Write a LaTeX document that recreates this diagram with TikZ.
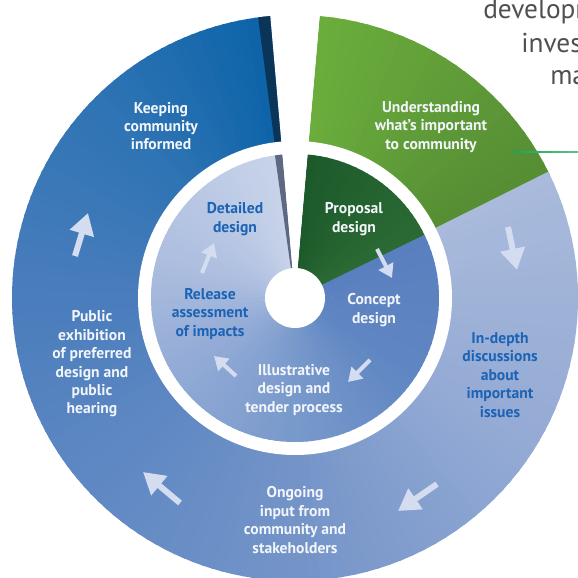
\documentclass[tikz,border=0pt]{standalone}
\usepackage{fontspec}
\setmainfont{PT Sans}
\usepackage{tikz}
\usetikzlibrary{arrows.meta}
\definecolor{ringA}{HTML}{A9BADB}
\definecolor{ringB}{HTML}{95ABD5}
\definecolor{ringC}{HTML}{7494C8}
\definecolor{ringD}{HTML}{5E88C3}
\definecolor{ringE}{HTML}{4A7DBC}
\definecolor{ringF}{HTML}{2F74B4}
\definecolor{ringG}{HTML}{0C63A8}
\definecolor{coreA}{HTML}{5A7FBF}
\definecolor{coreB}{HTML}{5F86C2}
\definecolor{coreC}{HTML}{7899CB}
\definecolor{coreD}{HTML}{93ABD6}
\definecolor{coreE}{HTML}{AEBFE0}
\definecolor{coreF}{HTML}{C9D4EA}
\definecolor{leafA}{HTML}{6BAD3D}
\definecolor{leafB}{HTML}{568E34}
\definecolor{pineA}{HTML}{1D5A2B}
\definecolor{pineB}{HTML}{2B6A34}
\definecolor{navystrip}{HTML}{0B3459}
\definecolor{greystrip}{HTML}{5E6880}
\definecolor{labwhite}{HTML}{F2F5FA}
\definecolor{labblue}{HTML}{1B63B5}
\definecolor{arrowfill}{HTML}{D3DDEF}
\definecolor{textgray}{HTML}{505050}
\definecolor{lineA}{HTML}{1FA050}
\definecolor{lineB}{HTML}{5CC58A}
\tikzset{
  lbl/.style={font=\bfseries\fontsize{11.7}{13.8}\selectfont, align=center, text=labwhite},
  lblblue/.style={lbl, text=labblue},
  flow/.style={draw=arrowfill, line width=4.5pt, -{Triangle[width=18pt,length=16pt]}},
  flowsmall/.style={draw=arrowfill, line width=3pt, -{Triangle[width=12pt,length=10pt]}},
  sidetext/.style={anchor=base west, font=\fontsize{20.5}{24}\selectfont, text=textgray, inner sep=0pt}
}
\newcommand{\ringwedge}[5]{%
  \foreach \k in {0,...,23}{%
    \pgfmathsetmacro{\wa}{#2+(#3-#2)*\k/24}%
    \pgfmathsetmacro{\wb}{#2+(#3-#2)*(\k+1.3)/24}%
    \pgfmathtruncatemacro{\wp}{100-100*\k/23}%
    \fill[#4!\wp!#5] (0,0) -- (\wa:#1) arc[start angle=\wa, end angle=\wb, radius=#1] -- cycle;
  }%
}
\begin{document}
\begin{tikzpicture}[x=0.75pt,y=0.75pt]
  \useasboundingbox (0,0) rectangle (578,578);
  \clip (0,0) rectangle (578,578);
  \begin{scope}[shift={(295,280)}]
    \ringwedge{283}{85}{26.5}{leafA}{leafB}
    \foreach \sa/\sb/\ca/\cb in {26.5/-30/ringA/ringB, -30/-90/ringB/ringC, -90/-140/ringC/ringD,
      -140/-180/ringD/ringE, -180/-225/ringE/ringF, -225/-265/ringF/ringG}{
      \ringwedge{283}{\sa}{\sb}{\ca}{\cb}
    }
    \fill[navystrip] (0,0) -- (95:283) arc[start angle=95, end angle=97.5, radius=283] -- cycle;
    \fill[white] (0,0) circle (157);
    \ringwedge{144}{85}{26}{pineA}{pineB}
    \foreach \sa/\sb/\ca/\cb in {26/-30/coreA/coreB, -30/-90/coreB/coreC, -90/-150/coreC/coreD,
      -150/-200/coreD/coreE, -200/-265/coreE/coreF}{
      \ringwedge{144}{\sa}{\sb}{\ca}{\cb}
    }
    \fill[greystrip] (0,0) -- (95:144) arc[start angle=95, end angle=98, radius=144] -- cycle;
    \fill[white] (0,0) -- (85:300) arc[start angle=85, end angle=95, radius=300] -- cycle;
    \fill[white] (0,0) circle (30);
  \end{scope}

  \shade[left color=lineA, right color=lineB] (511,425.2) rectangle (578,426.8);
  \node[sidetext] (devline) at (483,559) {developm};
  \node[sidetext] (invline) at (521,525) {inves};
  \node[sidetext] (maline) at (550,493) {ma};

  \node[lbl] (keep) at (161,452) {Keeping\\community\\informed};
  \node[lbl] (understand) at (431,451) {Understanding\\what’s important\\to community};
  \node[lblblue] (indepth) at (500,203) {In-depth\\discussions\\about\\important\\issues};
  \node[lbl] (ongoing) at (295,58) {Ongoing\\input from\\community and\\stakeholders};
  \node[lbl] (exhibit) at (92,214) {Public\\exhibition\\of preferred\\design and\\public\\hearing};
  \node[lbl] (proposal) at (354,359) {Proposal\\design};
  \node[lbl] (concept) at (374,268) {Concept\\design};
  \node[lbl] (illustr) at (294,188) {Illustrative\\design and\\tender process};
  \node[lblblue] (release) at (210,264) {Release\\assessment\\of impacts};
  \node[lblblue] (detailed) at (235,359) {Detailed\\design};

  \draw[flow] (508,351) -- (517,308);
  \draw[flow] (437,94) -- (398,67);
  \draw[flow] (180,75) -- (143,106);
  \draw[flow] (75,322) -- (88,365);
  \draw[flowsmall] (377,329) -- (392,300);
  \draw[flowsmall] (370,218) -- (348,196);
  \draw[flowsmall] (236,202) -- (214,222);
  \draw[flowsmall] (202,305) -- (214,335);
\end{tikzpicture}
\end{document}
